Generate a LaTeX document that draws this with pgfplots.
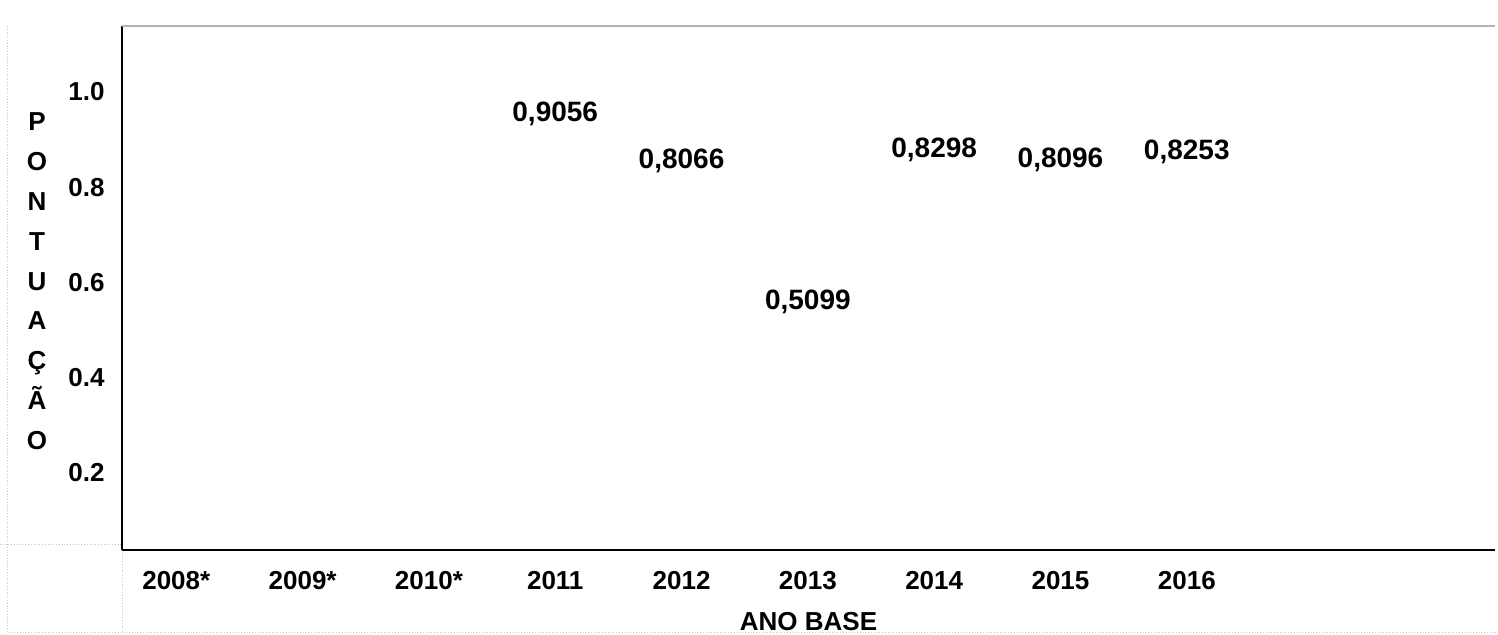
\documentclass[border=0pt]{standalone}
\usepackage{pgfplots}
\pgfplotsset{compat=1.18}
\usepackage{fontspec}
\setmainfont{Liberation Sans}

\begin{document}
\begin{tikzpicture}
	\useasboundingbox (-61pt,-42pt) rectangle (688pt,275pt);
	% moldura externa (scan)
	\draw[gray!45, densely dotted] (-57.5pt,262pt) -- (-57.5pt,-41pt) -- (688pt,-41pt);
	\draw[gray!45, densely dotted] (-61pt,3pt) -- (0pt,3pt);
	\draw[gray!45, densely dotted] (0pt,0pt) -- (0pt,-41pt);
	\begin{axis}[
		at={(0pt,0pt)}, anchor=south west,
		width=686.5pt, height=262pt, scale only axis,
		xmin=-0.43, xmax=10.44,
		ymin=0.036, ymax=1.139,
		axis x line*=bottom, axis y line*=left,
		axis line style={black, line width=1pt, -},
		major tick length=0pt,
		xtick={0,...,8},
		xticklabels={2008*,2009*,2010*,2011,2012,2013,2014,2015,2016},
		ytick={0.2,0.4,0.6,0.8,1.0},
		yticklabels={0.2,0.4,0.6,0.8,1.0},
		tick label style={font=\fontsize{13}{15}\selectfont\bfseries},
		xticklabel style={anchor=center, yshift=-15.5pt},
		yticklabel style={anchor=east, inner sep=0pt, xshift=-8.5pt},
		xlabel={ANO BASE},
		xlabel style={font=\fontsize{13}{15}\selectfont\bfseries,
			at={(axis description cs:0.5,0)}, anchor=center, yshift=-36pt},
		ylabel={P\\O\\N\\T\\U\\A\\Ç\\Ã\\O},
		ylabel style={font=\fontsize{13}{19.9}\selectfont\bfseries, align=center,
			rotate=-90, at={(axis description cs:0,0.513)}, anchor=center, xshift=-42.5pt},
		point meta=explicit symbolic,
		nodes near coords,
		nodes near coords style={font=\fontsize{14}{16}\selectfont\bfseries, anchor=south, yshift=2pt},
		clip=false,
		]
		\addplot[draw=none, mark=none] coordinates {
			(3,0.9056) [0,9056]
			(4,0.8066) [0,8066]
			(5,0.5099) [0,5099]
			(6,0.8298) [0,8298]
			(7,0.8096) [0,8096]
			(8,0.8253) [0,8253]
		};
		\draw[gray!60, line width=0.6pt] (rel axis cs:0,1) -- (rel axis cs:1,1);
	\end{axis}
\end{tikzpicture}
\end{document}
